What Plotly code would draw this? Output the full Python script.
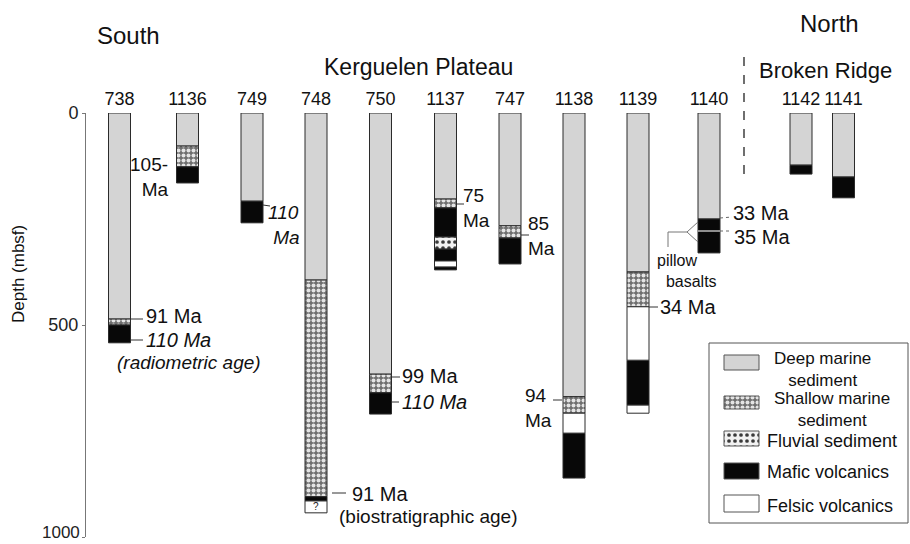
import plotly.graph_objects as go

# ---------------- data ----------------
sites = ["738", "1136", "749", "748", "750", "1137", "747", "1138", "1139", "1140", "1142", "1141"]

deep_sites = sites
deep_top = [0, 0, 0, 0, 0, 0, 0, 0, 0, 0, 0, 0]
deep_bottom = [486, 78, 208, 394, 616, 203, 266, 669, 375, 250, 123, 151]

shallow_sites = ["738", "1136", "748", "750", "1137", "747", "1138", "1139"]
shallow_top = [486, 78, 394, 616, 203, 266, 669, 375]
shallow_bottom = [500, 127, 905, 660, 224, 295, 708, 457]

fluvial_sites = ["1137"]
fluvial_top = [292]
fluvial_bottom = [321]

mafic_sites = ["738", "1136", "749", "748", "750", "1137", "1137", "1137", "747", "1138", "1139", "1140", "1142", "1141"]
mafic_top = [500, 127, 208, 905, 660, 224, 321, 363, 295, 755, 583, 250, 123, 151]
mafic_bottom = [542, 165, 259, 915, 710, 292, 349, 370, 356, 861, 689, 330, 144, 200]

felsic_sites = ["1137", "1138", "1139", "1139"]
felsic_top = [349, 708, 457, 689]
felsic_bottom = [363, 755, 583, 708]

unknown_sites = ["748"]
unknown_top = [915]
unknown_bottom = [943]

depth_ticks = [0, 500, 1000]
depth_labels = ["0", "500", "1000"]

# ---------------- layout constants (pixel positions) ----------------
W, H = 910, 544
site_px = {"738": 119.5, "1136": 187.5, "749": 252, "748": 316, "750": 380.5, "1137": 445.5,
           "747": 510, "1138": 574, "1139": 638, "1140": 709, "1142": 801, "1141": 843.5}
COL_W = 22
FONT = "Liberation Sans, Arial, Helvetica, sans-serif"
OUT = "#2b2b2b"

DEEP = "#d4d4d4"
MAFIC = "#080808"
FELSIC = "#ffffff"

fig = go.Figure()


def add_lith(name, s, top, bot, color, pattern=None, text=None):
    fig.add_trace(go.Bar(
        x=[site_px[v] for v in s],
        base=top,
        y=[b - t for t, b in zip(top, bot)],
        width=COL_W,
        name=name,
        marker=dict(color=color, line=dict(color=OUT, width=1), pattern=pattern),
        text=text,
        textposition="inside" if text else None,
        insidetextanchor="middle",
        textangle=0,
        constraintext="none",
        textfont=dict(family=FONT, size=10, color="#222"),
        showlegend=False,
        hoverinfo="skip",
        xaxis="x", yaxis="y",
    ))


shallow_pat = dict(shape=".", bgcolor="#6e6e6e", fgcolor="#e4e4e4", size=5, solidity=0.5, fillmode="replace")
fluvial_pat = dict(shape=".", bgcolor="#f2f2f2", fgcolor="#3a3a3a", size=6, solidity=0.3, fillmode="replace")

add_lith("Deep marine sediment", deep_sites, deep_top, deep_bottom, DEEP)
add_lith("Shallow marine sediment", shallow_sites, shallow_top, shallow_bottom, "#8a8a8a", shallow_pat)
add_lith("Fluvial sediment", fluvial_sites, fluvial_top, fluvial_bottom, "#f2f2f2", fluvial_pat)
add_lith("Mafic volcanics", mafic_sites, mafic_top, mafic_bottom, MAFIC)
add_lith("Felsic volcanics", felsic_sites, felsic_top, felsic_bottom, FELSIC)
add_lith("Unknown", unknown_sites, unknown_top, unknown_bottom, FELSIC, text=["?"])

# ---------------- manual legend (pixel space on x2/y2) ----------------
leg_items = [
    ("Deep marine sediment", DEEP, None, 355, 370),
    ("Shallow marine sediment", "#8a8a8a", shallow_pat, 396, 409),
    ("Fluvial sediment", "#f2f2f2", fluvial_pat, 431, 446),
    ("Mafic volcanics", MAFIC, None, 463, 479),
    ("Felsic volcanics", FELSIC, None, 495, 512),
]
for name, col, pat, y0, y1 in leg_items:
    fig.add_trace(go.Bar(
        x=[741.5], base=[y0], y=[y1 - y0], width=35,
        marker=dict(color=col, line=dict(color="#555", width=1), pattern=pat),
        showlegend=False, hoverinfo="skip", xaxis="x2", yaxis="y2",
    ))

shapes = []
annotations = []


def line(x0, y0, x1, y1, color="#333", width=1, dash=None):
    shapes.append(dict(type="line", xref="x2", yref="y2", x0=x0, y0=y0, x1=x1, y1=y1,
                       line=dict(color=color, width=width, dash=dash)))


def txt(x, y, s, size=20, xanchor="left", italic=False, color="#111", angle=0, align="left"):
    if italic:
        s = "<i>" + s + "</i>"
    annotations.append(dict(x=x, y=y, xref="x2", yref="y2", text=s, showarrow=False,
                            xanchor=xanchor, yanchor="middle", textangle=angle, align=align,
                            borderpad=0,
                            font=dict(family=FONT, size=size, color=color)))


# bottom depth label (kept inside the page): anchored to the depth axis value
annotations.append(dict(x=81, xref="x2", y=depth_ticks[-1], yref="y", text=depth_labels[-1],
                        showarrow=False, xanchor="right", yanchor="middle", yshift=5, borderpad=0,
                        font=dict(family=FONT, size=17, color="#222")))

# legend frame + labels
shapes.append(dict(type="rect", xref="x2", yref="y2", x0=709, y0=343, x1=908, y1=523,
                   line=dict(color="#555", width=1), fillcolor="rgba(0,0,0,0)", layer="below"))
txt(822, 369, "Deep marine<br>sediment", 17, "center", align="center")
txt(832, 409, "Shallow marine<br>sediment", 17, "center", align="center")
txt(766, 441, "Fluvial sediment", 18)
txt(766, 472, "Mafic volcanics", 18)
txt(766, 506, "Felsic volcanics", 18)

# headings
txt(128, 35, "South", 24, "center")
txt(829, 23, "North", 24, "center")
txt(418, 67, "Kerguelen Plateau", 23, "center")
txt(825, 70, "Broken Ridge", 22, "center")
txt(18, 274, "Depth (mbsf)", 17, "center", angle=-90)
line(744, 57, 744, 183, "#222", 1.3, "dash")

# age labels
line(131, 319, 143, 319); txt(145, 316, "91 Ma")
line(131, 340, 143, 340); txt(145, 340, "110 Ma", italic=True)
txt(189, 362, "(radiometric age)", 19, "center", italic=True)

txt(169, 177, "105-<br>Ma", 19, "right", align="right")

line(263, 205, 270, 206)
txt(267, 225, "110<br> Ma", 19, italic=True)

line(332, 493, 346, 493); txt(351, 494, "91 Ma")
txt(428, 516, "(biostratigraphic age)", 19, "center")

line(392, 377, 400, 377); txt(401, 376, "99 Ma")
line(392, 402, 399, 402); txt(401, 402, "110 Ma", italic=True)

line(457, 204, 464, 204); txt(462, 208, "75<br>Ma", 19)
line(521, 235, 529, 235); txt(527, 236, "85<br>Ma", 19)

txt(553, 408, "94<br>Ma", 19, "right", align="left")
line(553, 400, 562, 400)

line(649, 307, 658, 307); txt(659, 307, "34 Ma")

line(720, 218, 732, 217, "#666", 1, "dot"); txt(732, 213, "33 Ma")
line(720, 231, 732, 231, "#666", 1, "dot"); txt(733, 237, "35 Ma")
line(698, 231, 720, 231, "#bbbbbb", 1.5)  # boundary between basalt flows

# pillow basalt bracket
line(668, 232, 668, 247, "#777", 1)
line(668, 232, 687, 232, "#777", 1)
line(687, 232, 698, 222, "#777", 1)
line(687, 232, 698, 242, "#777", 1)
txt(656, 271, "pillow<br>&nbsp;&nbsp;basalts", 16, "left")

ydom = [(H - 537) / H, (H - 113) / H]
fig.update_layout(
    width=W, height=H,
    margin=dict(l=0, r=0, t=0, b=0, autoexpand=False),
    paper_bgcolor="white", plot_bgcolor="rgba(0,0,0,0)",
    barmode="overlay",
    showlegend=False,
    shapes=shapes,
    annotations=annotations,
    xaxis=dict(domain=[86 / W, 1], range=[86, 910], side="top",
               tickvals=[site_px[s] for s in sites], ticktext=sites, tickangle=0,
               tickfont=dict(family=FONT, size=18, color="#111"),
               ticks="", showline=False, showgrid=False, zeroline=False,
               anchor="y", fixedrange=True, ticklabelstandoff=3, automargin=False),
    yaxis=dict(domain=ydom, range=[1000, 0],
               tickvals=depth_ticks, ticktext=depth_labels[:-1] + [""],
               ticks="outside", ticklen=3, tickcolor="#777",
               tickfont=dict(family=FONT, size=18, color="#222"),
               showline=True, linecolor="#777", linewidth=1,
               showgrid=False, zeroline=False, anchor="x", fixedrange=True, automargin=False),
    xaxis2=dict(domain=[0, 1], range=[0, W], visible=False, anchor="y2", fixedrange=True, automargin=False),
    yaxis2=dict(domain=[0, 1], range=[H, 0], visible=False, anchor="x2", fixedrange=True, automargin=False),
)

fig.write_html("out.html", config={"displayModeBar": False},
               post_script="document.body.style.margin='0px';document.body.style.overflow='hidden';")
